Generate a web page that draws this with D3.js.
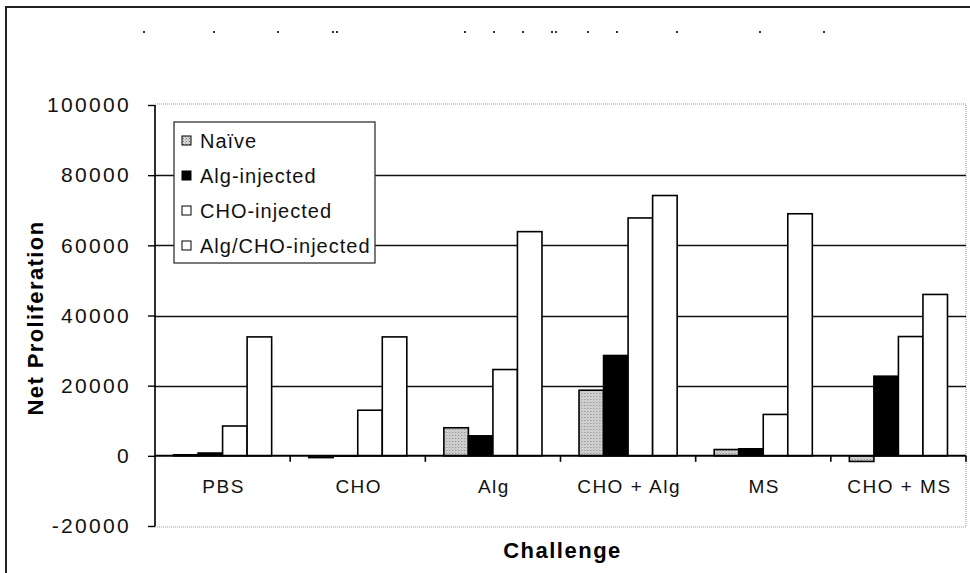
<!DOCTYPE html>
<html>
<head>
<meta charset="utf-8">
<script src="https://cdn.jsdelivr.net/npm/d3@7"></script>
<style>
  html, body { margin: 0; padding: 0; background: #fff; }
  svg { display: block; font-family: "Liberation Sans", Arial, sans-serif; }
</style>
</head>
<body>
<svg id="chart" width="970" height="573"></svg>
<script>
// Challenge conditions along the x axis
const categories = ["PBS", "CHO", "Alg", "CHO + Alg", "MS", "CHO + MS"];
// Immunisation groups (legend order)
const seriesNames = ["Naïve", "Alg-injected", "CHO-injected", "Alg/CHO-injected"];
// Net proliferation per group, one value per challenge
const naive       = [300, -500, 8000, 18700, 1800, -1600];
const algInjected = [800, -100, 5700, 28600, 2000, 22700];
const choInjected = [8500, 13000, 24600, 67800, 11800, 34000];
const algChoInjected = [33900, 33900, 63900, 74200, 69000, 46000];
// Value axis ticks
const yTicks = [-20000, 0, 20000, 40000, 60000, 80000, 100000];
const gridTicks = [20000, 40000, 60000, 80000];
// Remnant marks of the faded heading
const headingDots = [143, 213, 277, 332, 336, 464, 493, 522, 551, 555, 587, 616, 676, 759, 823];

const seriesValues = [naive, algInjected, choInjected, algChoInjected];
const rows = categories.map((c, i) => ({
  category: c,
  values: seriesNames.map((s, k) => ({ series: s, value: seriesValues[k][i] }))
}));

const svg = d3.select("#chart");
const plot = { left: 155, right: 966, top: 105, bottom: 526 };

// Stippled grey fill for the naïve group
const defs = svg.append("defs");
const pat = defs.append("pattern")
  .attr("id", "stipple").attr("patternUnits", "userSpaceOnUse")
  .attr("width", 3).attr("height", 3);
pat.append("rect").attr("width", 3).attr("height", 3).attr("fill", "#d6d6d6");
pat.append("rect").attr("x", 0).attr("y", 0).attr("width", 1).attr("height", 1).attr("fill", "#7a7a7a");
pat.append("rect").attr("x", 2).attr("y", 1.5).attr("width", 1).attr("height", 1).attr("fill", "#a0a0a0");

const fills = {
  "Naïve": "url(#stipple)",
  "Alg-injected": "#000",
  "CHO-injected": "#fff",
  "Alg/CHO-injected": "#fff"
};

const x = d3.scaleBand().domain(categories).range([plot.left, plot.right]).paddingInner(0).paddingOuter(0);
const xs = d3.scaleBand().domain(seriesNames).range([0, x.bandwidth()]).paddingInner(0).paddingOuter(0.755);
const y = d3.scaleLinear().domain([-20000, 100000]).range([plot.bottom, plot.top]);

// Outer frame edges
svg.append("line").attr("x1", 5).attr("x2", 970).attr("y1", 7).attr("y2", 7)
  .attr("stroke", "#222").attr("stroke-width", 2);
svg.append("line").attr("x1", 6).attr("x2", 6).attr("y1", 7).attr("y2", 573)
  .attr("stroke", "#222").attr("stroke-width", 2);

// Faded heading remnants
svg.append("g").selectAll("rect").data(headingDots).join("rect")
  .attr("x", d => d).attr("y", 31).attr("width", 2).attr("height", 2).attr("fill", "#333");

// Plot area border (dotted)
svg.append("rect")
  .attr("x", plot.left).attr("y", plot.top - 1)
  .attr("width", plot.right - plot.left).attr("height", plot.bottom - plot.top + 2)
  .attr("fill", "none").attr("stroke", "#9a9a9a").attr("stroke-width", 1)
  .attr("stroke-dasharray", "1,1");

// Gridlines
svg.append("g").selectAll("line").data(gridTicks).join("line")
  .attr("x1", plot.left).attr("x2", plot.right)
  .attr("y1", d => Math.round(y(d)) + 0.5).attr("y2", d => Math.round(y(d)) + 0.5)
  .attr("stroke", "#111").attr("stroke-width", 1.6);

// Bars
const groups = svg.append("g").selectAll("g").data(rows).join("g")
  .attr("transform", d => `translate(${x(d.category)},0)`);
groups.selectAll("rect").data(d => d.values).join("rect")
  .attr("x", d => xs(d.series))
  .attr("width", xs.bandwidth())
  .attr("y", d => y(Math.max(0, d.value)))
  .attr("height", d => Math.abs(y(d.value) - y(0)))
  .attr("fill", d => fills[d.series])
  .attr("stroke", "#000").attr("stroke-width", 1.6);

// Category axis along zero
const xAxis = svg.append("g")
  .attr("transform", `translate(0,${y(0)})`);
xAxis.append("line").attr("x1", plot.left).attr("x2", plot.right)
  .attr("stroke", "#000").attr("stroke-width", 2);
const boundaries = categories.map(c => x(c) + x.bandwidth());
xAxis.selectAll("line.tick").data(boundaries).join("line").attr("class", "tick")
  .attr("x1", d => d).attr("x2", d => d).attr("y1", 0).attr("y2", 6)
  .attr("stroke", "#000").attr("stroke-width", 1.6);

// Category labels below the plot
svg.append("g").selectAll("text").data(categories).join("text")
  .attr("x", d => x(d) + x.bandwidth() / 2 + 1)
  .attr("y", 493)
  .attr("text-anchor", "middle")
  .attr("font-size", 19).attr("letter-spacing", 1.5)
  .attr("fill", "#111")
  .text(d => d);

// Value axis (plain hyphen for negatives)
const yAxis = svg.append("g")
  .attr("transform", `translate(${plot.left},0)`)
  .call(d3.axisLeft(y).tickValues(yTicks).tickSize(7).tickPadding(17).tickFormat(d => String(d)));
yAxis.select(".domain").attr("stroke", "#000").attr("stroke-width", 1.6)
  .attr("d", `M0,${plot.top}V${plot.bottom}`);
yAxis.selectAll(".tick line").attr("stroke", "#000").attr("stroke-width", 1.4);
yAxis.selectAll(".tick text")
  .attr("font-size", 21).attr("letter-spacing", 2.3)
  .attr("fill", "#111").attr("font-family", "'Liberation Sans', Arial, sans-serif");

// Axis titles
svg.append("text")
  .attr("transform", "translate(43,318) rotate(-90)")
  .attr("text-anchor", "middle")
  .attr("font-size", 22).attr("font-weight", "bold").attr("letter-spacing", 1.4)
  .attr("fill", "#000")
  .text("Net Proliferation");
svg.append("text")
  .attr("x", (plot.left + plot.right) / 2 + 2).attr("y", 558)
  .attr("text-anchor", "middle")
  .attr("font-size", 22).attr("font-weight", "bold").attr("letter-spacing", 1.5)
  .attr("fill", "#000")
  .text("Challenge");

// Legend
const legend = svg.append("g").attr("transform", "translate(174,122)");
legend.append("rect").attr("width", 201).attr("height", 141)
  .attr("fill", "#fff").attr("stroke", "#333").attr("stroke-width", 1.3);
const items = legend.selectAll("g").data(seriesNames).join("g")
  .attr("transform", (d, i) => `translate(0,${19 + i * 35})`);
items.append("rect").attr("x", 8).attr("y", -5).attr("width", 9).attr("height", 9)
  .attr("fill", d => fills[d]).attr("stroke", "#000").attr("stroke-width", 1);
items.append("text").attr("x", 26).attr("y", 7)
  .attr("font-size", 20).attr("letter-spacing", 1).attr("fill", "#111")
  .text(d => d);
</script>
</body>
</html>
